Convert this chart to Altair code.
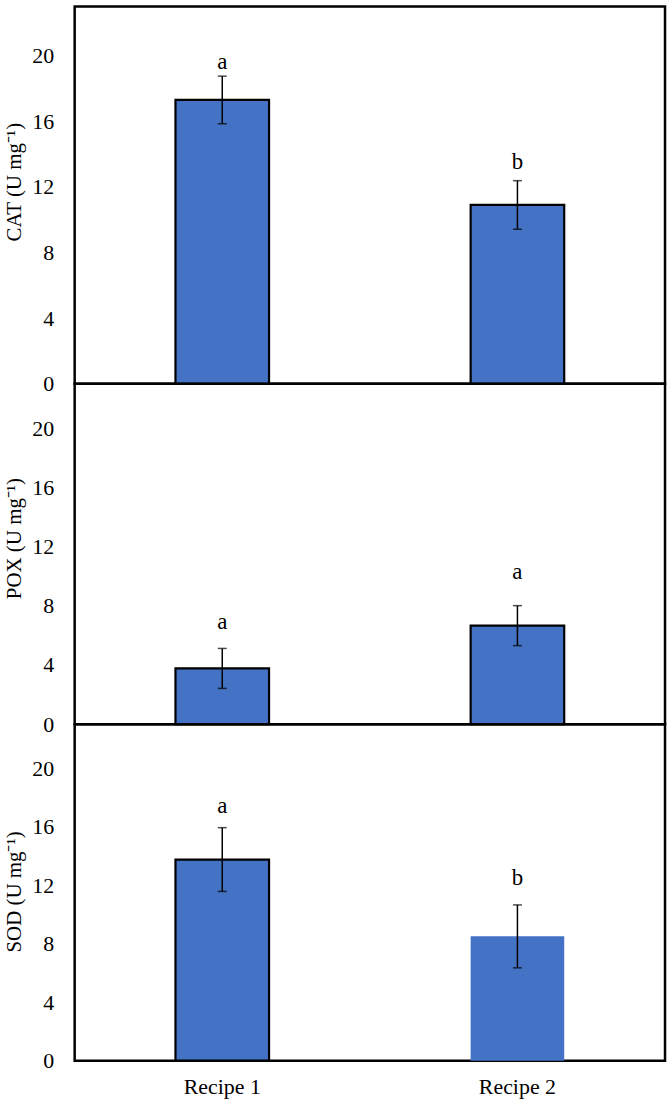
import altair as alt
import pandas as pd

recipes = ["Recipe 1", "Recipe 2"]

cat_mean = [17.3, 10.9]
cat_sd = [1.45, 1.48]
cat_letters = ["a", "b"]
cat_letter_y = [19.2, 13.1]

pox_mean = [3.77, 6.66]
pox_sd = [1.35, 1.35]
pox_letters = ["a", "a"]
pox_letter_y = [6.4, 9.8]

sod_mean = [13.75, 8.5]
sod_sd = [2.18, 2.15]
sod_letters = ["a", "b"]
sod_letter_y = [16.9, 12.0]

y_ticks = [0, 4, 8, 12, 16, 20]

FONT = "Liberation Serif"
BLUE = "#4472C4"


def panel(name, means, sds, letters, letter_y, height, title, title_y, show_x):
    df = pd.DataFrame({
        "recipe": recipes,
        "mean": means,
        "lo": [m - s for m, s in zip(means, sds)],
        "hi": [m + s for m, s in zip(means, sds)],
        "letter": letters,
        "ly": letter_y,
        "panel": name,
    })
    if show_x:
        xaxis = alt.Axis(labelFont=FONT, labelFontSize=22, labelColor="black",
                         labelAngle=0, labelPadding=16, ticks=False, domain=False,
                         title=None)
    else:
        xaxis = None
    x = alt.X("recipe:N", sort=recipes,
              scale=alt.Scale(paddingInner=0.683, paddingOuter=0.3415),
              axis=xaxis, title=None)
    ys = alt.Scale(domain=[0, 23], nice=False, zero=True)
    yaxis = alt.Axis(values=y_ticks, domain=False, ticks=False, grid=False,
                     labelFont=FONT, labelFontSize=22, labelColor="black",
                     labelPadding=21,
                     titleFont=FONT, titleFontSize=21, titleFontWeight="normal",
                     titleColor="black", titleX=-60, titleY=title_y,
                     titleAngle=270, titleAlign="center", titleBaseline="middle")
    base = alt.Chart(df)
    bars = base.mark_bar(color=BLUE, stroke="black").encode(
        x=x,
        y=alt.Y("mean:Q", scale=ys, axis=yaxis, title=title),
        strokeWidth=alt.condition(
            "datum.panel === 'SOD' && datum.recipe === 'Recipe 2'",
            alt.value(0), alt.value(2.2)),
    )
    rule = base.mark_rule(color="black", strokeWidth=1.5).encode(
        x=x, y=alt.Y("lo:Q", scale=ys), y2="hi:Q")
    tick_hi = base.mark_tick(color="black", size=9, thickness=1.5).encode(
        x=x, y=alt.Y("hi:Q", scale=ys))
    tick_lo = base.mark_tick(color="black", size=9, thickness=1.5).encode(
        x=x, y=alt.Y("lo:Q", scale=ys))
    text = base.mark_text(font=FONT, fontSize=23, baseline="alphabetic",
                          color="black").encode(
        x=x, y=alt.Y("ly:Q", scale=ys), text="letter:N")
    return alt.layer(bars, rule, tick_hi, tick_lo, text).properties(
        width=593, height=height)


p1 = panel("CAT", cat_mean, cat_sd, cat_letters, cat_letter_y, 379,
           "CAT (U mg⁻¹)", 176, False)
p2 = panel("POX", pox_mean, pox_sd, pox_letters, pox_letter_y, 342,
           "POX (U mg⁻¹)", 155, False)
p3 = panel("SOD", sod_mean, sod_sd, sod_letters, sod_letter_y, 338,
           "SOD (U mg⁻¹)", 168, True)

chart = alt.vconcat(p1, p2, p3, spacing=0, bounds="flush").properties(
    padding={"top": 2, "left": 2, "right": 2, "bottom": 2},
    background="white",
).configure_view(stroke="black", strokeWidth=2.5)

chart.save("out.html", embed_options={"renderer": "svg", "actions": False})
